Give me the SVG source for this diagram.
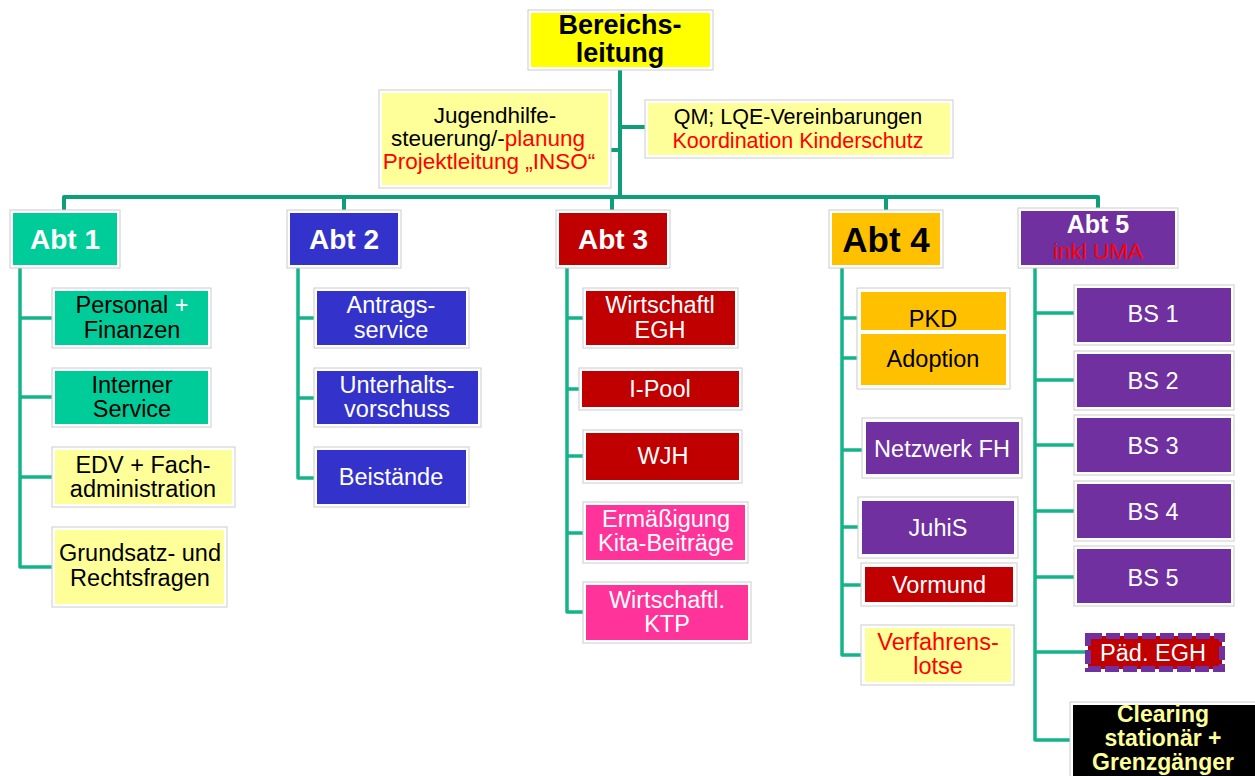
<svg xmlns="http://www.w3.org/2000/svg" width="1255" height="776" viewBox="0 0 1255 776">
  <style>
    text { font-family: "Liberation Sans", Arial, sans-serif; text-anchor: middle; }
    .frame { fill: #ffffff; stroke: #cccccc; stroke-width: 1; }
    .t { font-size: 23.5px; }
    .b { font-weight: bold; }
    .wh { fill: #ffffff; }
    .bk { fill: #000000; }
    .rd { fill: #ff0000; }
    .teal { fill: #00cc99; }
    .blue { fill: #3333cc; }
    .dred { fill: #c00000; }
    .pink { fill: #ff3399; }
    .orng { fill: #ffc000; }
    .purp { fill: #7030a0; }
    .lyel { fill: #ffff99; }
    .main { fill: none; stroke: #0e9e7a; stroke-width: 4; stroke-linejoin: round; }
    .sub { fill: none; stroke: #14b48a; stroke-width: 3.5; stroke-linejoin: round; }
  </style>

  <!-- connectors -->
  <g id="connectors">
    <path class="main" d="M620 70 V197 M64 210 V197 H1098 V210 M344 197 V210 M612 197 V210 M886 197 V210"/>
    <path class="main" d="M608 150 H620 M620 127 H648"/>
    <path class="sub" d="M20 268 V567 H55 M20 318 H55 M20 397 H55 M20 477 H55"/>
    <path class="sub" d="M298 268 V478 H317 M298 318 H317 M298 398 H317"/>
    <path class="sub" d="M567 268 V612 H586 M567 318 H586 M567 389 H582 M567 456 H586 M567 533 H586"/>
    <path class="sub" d="M842 268 V655 H865 M842 318 H861 M842 358 H861 M842 450 H866 M842 527 H862 M842 585 H865"/>
    <path class="sub" d="M1035 268 V740 H1073 M1035 313 H1077 M1035 380 H1077 M1035 445 H1077 M1035 511 H1077 M1035 577 H1077 M1035 652 H1088"/>
  </g>

  <!-- top level -->
  <g id="bereichsleitung">
    <rect class="frame" x="528" y="10" width="185" height="60"/>
    <rect x="531" y="13" width="179" height="54" fill="#ffff00"/>
    <text class="b bk" font-size="27" x="620" y="34">Bereichs-</text>
    <text class="b bk" font-size="27" x="620" y="62">leitung</text>
  </g>

  <g id="jugendhilfe">
    <rect class="frame" x="379" y="90" width="232" height="98"/>
    <rect class="lyel" x="382" y="93" width="226" height="92"/>
    <text class="bk" font-size="22.5" x="495" y="123">Jugendhilfe-</text>
    <text class="bk" font-size="22.5" x="488" y="146">steuerung/-<tspan class="rd">planung</tspan></text>
    <text class="rd" font-size="22.5" x="489" y="169">Projektleitung „INSO“</text>
  </g>

  <g id="qm">
    <rect class="frame" x="645" y="100" width="308" height="58"/>
    <rect class="lyel" x="648" y="103" width="302" height="52"/>
    <text class="bk" font-size="21.5" x="798" y="124">QM; LQE-Vereinbarungen</text>
    <text class="rd" font-size="21.5" x="798" y="148">Koordination Kinderschutz</text>
  </g>

  <!-- departments -->
  <g id="abt1">
    <rect class="frame" x="10" y="210" width="110" height="58"/>
    <rect class="teal" x="13" y="213" width="104" height="52"/>
    <text class="b wh" font-size="28" x="65" y="249">Abt 1</text>
  </g>
  <g id="abt2">
    <rect class="frame" x="287" y="210" width="114" height="58"/>
    <rect class="blue" x="290" y="213" width="108" height="52"/>
    <text class="b wh" font-size="28" x="344" y="249">Abt 2</text>
  </g>
  <g id="abt3">
    <rect class="frame" x="556" y="210" width="114" height="58"/>
    <rect class="dred" x="559" y="213" width="108" height="52"/>
    <text class="b wh" font-size="28" x="613" y="249">Abt 3</text>
  </g>
  <g id="abt4">
    <rect class="frame" x="829" y="210" width="114" height="58"/>
    <rect class="orng" x="832" y="213" width="108" height="52"/>
    <text class="b bk" font-size="35" x="886" y="252">Abt 4</text>
  </g>
  <g id="abt5">
    <rect class="frame" x="1018" y="208" width="160" height="60"/>
    <rect class="purp" x="1021" y="211" width="154" height="54"/>
    <text class="b wh" font-size="25" x="1098" y="233">Abt 5</text>
    <text class="rd" font-size="22.5" x="1098" y="259">inkl UMA</text>
  </g>

  <!-- Abt 1 units -->
  <g id="personal">
    <rect class="frame" x="52" y="288" width="159" height="60"/>
    <rect class="teal" x="55" y="291" width="153" height="54"/>
    <text class="t bk" x="132" y="313">Personal <tspan class="wh">+</tspan></text>
    <text class="t bk" x="132" y="338">Finanzen</text>
  </g>
  <g id="interner-service">
    <rect class="frame" x="52" y="368" width="159" height="59"/>
    <rect class="teal" x="55" y="371" width="153" height="53"/>
    <text class="t bk" x="132" y="393">Interner</text>
    <text class="t bk" x="132" y="417">Service</text>
  </g>
  <g id="edv">
    <rect class="frame" x="52" y="447" width="183" height="60"/>
    <rect class="lyel" x="55" y="450" width="177" height="54"/>
    <text class="t bk" x="143" y="473">EDV + Fach-</text>
    <text class="t bk" x="143" y="497">administration</text>
  </g>
  <g id="grundsatz">
    <rect class="frame" x="52" y="527" width="175" height="80"/>
    <rect class="lyel" x="55" y="530" width="169" height="74"/>
    <text class="t bk" x="140" y="561">Grundsatz- und</text>
    <text class="t bk" x="140" y="586">Rechtsfragen</text>
  </g>

  <!-- Abt 2 units -->
  <g id="antragsservice">
    <rect class="frame" x="314" y="288" width="155" height="60"/>
    <rect class="blue" x="317" y="291" width="149" height="54"/>
    <text class="t wh" x="391" y="313">Antrags-</text>
    <text class="t wh" x="391" y="338">service</text>
  </g>
  <g id="unterhaltsvorschuss">
    <rect class="frame" x="314" y="368" width="167" height="59"/>
    <rect class="blue" x="317" y="371" width="161" height="53"/>
    <text class="t wh" x="397" y="393">Unterhalts-</text>
    <text class="t wh" x="397" y="417">vorschuss</text>
  </g>
  <g id="beistaende">
    <rect class="frame" x="314" y="447" width="155" height="60"/>
    <rect class="blue" x="317" y="450" width="149" height="54"/>
    <text class="t wh" x="391" y="485">Beistände</text>
  </g>

  <!-- Abt 3 units -->
  <g id="wirtschaftl-egh">
    <rect class="frame" x="583" y="288" width="155" height="60"/>
    <rect class="dred" x="586" y="291" width="149" height="54"/>
    <text class="t wh" x="660" y="313">Wirtschaftl</text>
    <text class="t wh" x="660" y="338">EGH</text>
  </g>
  <g id="i-pool">
    <rect class="frame" x="579" y="368" width="163" height="42"/>
    <rect class="dred" x="582" y="371" width="157" height="36"/>
    <text class="t wh" x="660" y="397">I-Pool</text>
  </g>
  <g id="wjh">
    <rect class="frame" x="583" y="430" width="159" height="53"/>
    <rect class="dred" x="586" y="433" width="153" height="47"/>
    <text class="t wh" x="663" y="464">WJH</text>
  </g>
  <g id="ermaessigung">
    <rect class="frame" x="583" y="502" width="165" height="61"/>
    <rect class="pink" x="586" y="505" width="159" height="55"/>
    <text class="t wh" x="666" y="527">Ermäßigung</text>
    <text class="t wh" x="666" y="551">Kita-Beiträge</text>
  </g>
  <g id="wirtschaftl-ktp">
    <rect class="frame" x="583" y="582" width="168" height="61"/>
    <rect class="pink" x="586" y="585" width="162" height="55"/>
    <text class="t wh" x="667" y="608">Wirtschaftl.</text>
    <text class="t wh" x="667" y="632">KTP</text>
  </g>

  <!-- Abt 4 units -->
  <g id="pkd-adoption">
    <rect class="frame" x="857" y="288" width="153" height="101"/>
    <rect class="orng" x="861" y="292" width="145" height="38"/>
    <rect class="orng" x="861" y="334" width="145" height="51"/>
    <text class="t bk" x="933" y="327">PKD</text>
    <text class="t bk" x="933" y="367">Adoption</text>
  </g>
  <g id="netzwerk-fh">
    <rect class="frame" x="862" y="418" width="160" height="60"/>
    <rect class="purp" x="866" y="422" width="153" height="52"/>
    <text class="t wh" x="942" y="457">Netzwerk FH</text>
  </g>
  <g id="juhis">
    <rect class="frame" x="858" y="497" width="160" height="61"/>
    <rect class="purp" x="862" y="501" width="152" height="53"/>
    <text class="t wh" x="938" y="536">JuhiS</text>
  </g>
  <g id="vormund">
    <rect class="frame" x="861" y="563" width="156" height="43"/>
    <rect class="dred" x="865" y="567" width="148" height="35"/>
    <text class="t wh" x="939" y="593">Vormund</text>
  </g>
  <g id="verfahrenslotse">
    <rect class="frame" x="861" y="625" width="153" height="60"/>
    <rect class="lyel" x="865" y="628" width="146" height="54"/>
    <text class="t rd" x="938" y="650">Verfahrens-</text>
    <text class="t rd" x="938" y="674">lotse</text>
  </g>

  <!-- Abt 5 units -->
  <g id="bs1">
    <rect class="frame" x="1074" y="285" width="160" height="60"/>
    <rect class="purp" x="1077" y="288" width="154" height="54"/>
    <text class="t wh" x="1153" y="322">BS 1</text>
  </g>
  <g id="bs2">
    <rect class="frame" x="1074" y="351" width="160" height="59"/>
    <rect class="purp" x="1077" y="354" width="154" height="53"/>
    <text class="t wh" x="1153" y="389">BS 2</text>
  </g>
  <g id="bs3">
    <rect class="frame" x="1074" y="415" width="160" height="60"/>
    <rect class="purp" x="1077" y="418" width="154" height="54"/>
    <text class="t wh" x="1153" y="454">BS 3</text>
  </g>
  <g id="bs4">
    <rect class="frame" x="1074" y="481" width="160" height="60"/>
    <rect class="purp" x="1077" y="484" width="154" height="54"/>
    <text class="t wh" x="1153" y="520">BS 4</text>
  </g>
  <g id="bs5">
    <rect class="frame" x="1074" y="546" width="160" height="60"/>
    <rect class="purp" x="1077" y="549" width="154" height="54"/>
    <text class="t wh" x="1153" y="586">BS 5</text>
  </g>
  <g id="paed-egh">
    <rect x="1088" y="636" width="134" height="33" fill="#c00000" stroke="#7030a0" stroke-width="6" stroke-dasharray="14 4"/>
    <text class="t wh" x="1153" y="661">Päd. EGH</text>
  </g>
  <g id="clearing">
    <rect class="frame" x="1070" y="702" width="186" height="75"/>
    <rect x="1073" y="705" width="182" height="71" fill="#000000"/>
    <text class="b" font-size="23" fill="#ffff99" x="1163" y="722">Clearing</text>
    <text class="b" font-size="23" fill="#ffff99" x="1163" y="746">stationär +</text>
    <text class="b" font-size="23" fill="#ffff99" x="1163" y="770">Grenzgänger</text>
  </g>
</svg>
